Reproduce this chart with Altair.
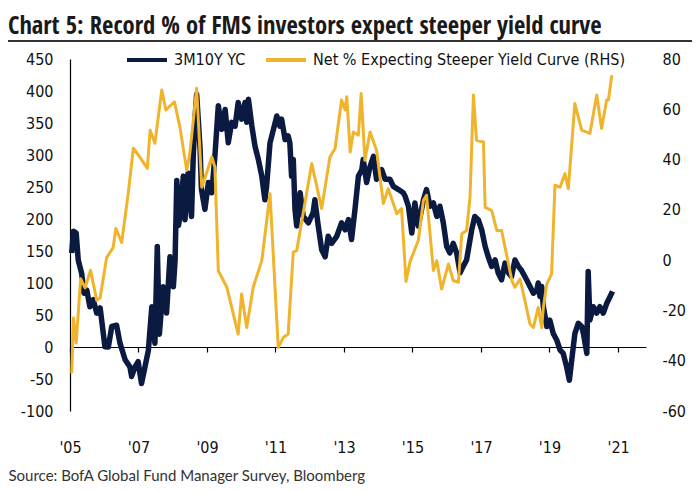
import altair as alt
import pandas as pd
import numpy as np

# ---- data ----
yc_years = [2005.05, 2005.10, 2005.18, 2005.24, 2005.34, 2005.41, 2005.49, 2005.58, 2005.68, 2005.78,
            2005.88, 2006.02, 2006.12, 2006.22, 2006.36, 2006.46, 2006.61, 2006.75, 2006.80, 2006.90,
            2006.99, 2007.09, 2007.19, 2007.29, 2007.39, 2007.48, 2007.55, 2007.61, 2007.72, 2007.82,
            2007.92, 2008.02, 2008.07, 2008.12, 2008.17, 2008.21, 2008.31, 2008.36, 2008.45, 2008.55,
            2008.60, 2008.65, 2008.70, 2008.80, 2008.84, 2008.94, 2009.04, 2009.14, 2009.23, 2009.33,
            2009.43, 2009.53, 2009.62, 2009.72, 2009.82, 2009.91, 2010.01, 2010.11, 2010.16, 2010.21,
            2010.31, 2010.40, 2010.50, 2010.60, 2010.69, 2010.74, 2010.84, 2010.94, 2011.04, 2011.13,
            2011.18, 2011.28, 2011.37, 2011.42, 2011.47, 2011.52, 2011.57, 2011.62, 2011.72, 2011.81,
            2011.96, 2012.10, 2012.15, 2012.25, 2012.35, 2012.45, 2012.54, 2012.64, 2012.79, 2012.93,
            2013.03, 2013.13, 2013.22, 2013.32, 2013.42, 2013.52, 2013.56, 2013.66, 2013.76, 2013.86,
            2013.95, 2014.10, 2014.20, 2014.34, 2014.44, 2014.59, 2014.73, 2014.78, 2014.88, 2014.98,
            2015.07, 2015.17, 2015.32, 2015.41, 2015.51, 2015.61, 2015.71, 2015.80, 2015.90, 2016.00,
            2016.09, 2016.19, 2016.29, 2016.39, 2016.48, 2016.58, 2016.73, 2016.82, 2016.92, 2017.02,
            2017.12, 2017.21, 2017.31, 2017.41, 2017.50, 2017.60, 2017.70, 2017.80, 2017.89, 2017.99,
            2018.09, 2018.18, 2018.33, 2018.43, 2018.53, 2018.63, 2018.67, 2018.72, 2018.77, 2018.82,
            2018.92, 2019.01, 2019.11, 2019.21, 2019.31, 2019.40, 2019.50, 2019.58, 2019.65, 2019.74,
            2019.84, 2019.94, 2019.99, 2020.09, 2020.13, 2020.18, 2020.28, 2020.38, 2020.47, 2020.57,
            2020.67, 2020.77, 2020.84]
yc_bp = [147, 181, 178, 136, 115, 84, 89, 63, 74, 53,
         61, 0.5, 0, 32, 34, 6, -20, -31, -46, -31,
         -23, -57, -31, -5, 63, 6, 157, 20, 94, 53,
         141, 94, 136, 260, 190, 204, 267, 199, 272, 204,
         298, 356, 395, 309, 246, 215, 257, 241, 298, 377,
         340, 371, 319, 351, 345, 382, 356, 382, 351, 387,
         345, 314, 293, 267, 230, 251, 319, 340, 361, 345,
         356, 324, 330, 319, 267, 293, 215, 189, 241, 204,
         194, 210, 230, 189, 152, 141, 173, 162, 173, 194,
         183, 199, 168, 215, 267, 277, 293, 257, 282, 298,
         262, 277, 262, 262, 251, 246, 241, 236, 220, 178,
         225, 189, 230, 246, 220, 225, 204, 220, 194, 157,
         147, 162, 147, 116, 126, 136, 183, 204, 199, 183,
         157, 141, 126, 136, 116, 105, 131, 116, 110, 136,
         126, 120, 105, 94.5, 84, 89, 100, 79, 94.5, 63,
         32, 42, 21, 11, -5, -10, -31, -52, -20, 21,
         37, 32, 21, -10, 118, 42, 63, 53, 63, 53,
         68, 79, 87]

fms_years = [2005.05, 2005.10, 2005.18, 2005.31, 2005.44, 2005.60, 2005.78, 2005.88, 2006.07, 2006.26,
             2006.34, 2006.51, 2006.70, 2006.85, 2007.04, 2007.26, 2007.34, 2007.48, 2007.68, 2007.80,
             2008.05, 2008.21, 2008.41, 2008.50, 2008.70, 2008.85, 2009.14, 2009.23, 2009.33, 2009.58,
             2009.72, 2009.91, 2010.01, 2010.16, 2010.35, 2010.60, 2010.84, 2011.08, 2011.23, 2011.37,
             2011.52, 2011.62, 2012.06, 2012.35, 2012.59, 2012.74, 2012.93, 2013.03, 2013.08, 2013.18,
             2013.27, 2013.42, 2013.50, 2013.61, 2013.76, 2013.95, 2014.15, 2014.29, 2014.54, 2014.68,
             2014.81, 2014.93, 2015.17, 2015.32, 2015.41, 2015.61, 2015.71, 2015.85, 2016.05, 2016.19,
             2016.34, 2016.44, 2016.58, 2016.68, 2016.78, 2016.87, 2017.07, 2017.12, 2017.31, 2017.46,
             2017.60, 2017.90, 2017.99, 2018.14, 2018.28, 2018.43, 2018.53, 2018.67, 2018.77, 2018.82,
             2018.92, 2019.06, 2019.16, 2019.31, 2019.45, 2019.55, 2019.74, 2019.94, 2020.18, 2020.38,
             2020.52, 2020.67, 2020.72, 2020.82]
fms_pct = [-45, -23, -33, -7.4, -11, -4, -16, -15, 1, 5,
           12.6, 7, 26.5, 44.5, 41, 36.5, 51.7, 46.5, 67.7, 59.7,
           63, 53, 35.7, 42.5, 68.4, 29, 41, 37, -4.2, -10.8,
           -18.8, -29.4, -13.5, -26.8, -10.8, -0.2, 26.4, -34.7, -30.8, -29.4,
           3.2, 3.8, 38.4, 20.5, 41, 44.4, 63.7, 59.7, 65, 43,
           51, 49.7, 66.3, 39.7, 51, 43.7, 22.5, 28.4, 18.5, 20.5,
           -8.5, -0.5, 7.8, 23.8, 25.8, -4.1, -0.2, -11.5, -1.5, -8.1,
           -8.8, 10.5, 11.8, 25, 65.7, 47.7, 47, 21, 19.8, 11.8,
           11.8, -8.1, -10.8, -7.5, -16, -25.4, -26.8, -18.8, -26.8, -18.8,
           -9.5, -5.5, 29.8, 29, 34.4, 28.4, 62.3, 51.7, 50.4, 65.7,
           52.4, 63.7, 63.7, 73.6]

series_names = ["3M10Y YC", "Net % Expecting Steeper Yield Curve (RHS)"]
left_ticks = list(range(-100, 451, 50))
right_ticks = list(range(-60, 81, 20))
x_tick_years = list(range(2005, 2022, 2))

NAVY = "#0b1a40"
GOLD = "#efb42c"


def to_date(y):
    yr = int(np.floor(y))
    frac = y - yr
    start = pd.Timestamp(year=yr, month=1, day=1)
    return start + pd.Timedelta(days=frac * 365.25)


yc_df = pd.DataFrame({"date": [to_date(v) for v in yc_years], "value": yc_bp, "series": series_names[0]})
fms_df = pd.DataFrame({"date": [to_date(v) for v in fms_years], "value": fms_pct, "series": series_names[1]})

W, H = 576, 352
LMIN, LMAX = -100, 450
zero_offset = -H * (0 - LMIN) / (LMAX - LMIN)

NARROW = "Liberation Sans Narrow, DejaVu Sans Condensed, sans-serif"
TITLE_FONT = "Open Sans Condensed, Roboto Condensed, DejaVu Sans Condensed, sans-serif"
SRC_FONT = "Lato, Open Sans, sans-serif"
LBL = 16

x_enc = alt.X(
    "date:T",
    scale=alt.Scale(domain=[alt.DateTime(year=2005, month=1, date=1), alt.DateTime(year=2021, month=10, date=26)]),
    axis=alt.Axis(
        values=[alt.DateTime(year=y, month=1, date=1) for y in x_tick_years],
        format="'%y", labelFlush=False, labelOverlap=False,
        domain=True, domainColor="#000000", domainWidth=1.2,
        ticks=True, tickSize=5, tickColor="#000000", tickWidth=1.2,
        offset=zero_offset, labelPadding=87, grid=False,
        labelFont=NARROW, labelFontSize=LBL, labelColor="#111111",
        title="Source: BofA Global Fund Manager Survey, Bloomberg",
        titleX=-62, titleY=128, titleAlign="left", titleBaseline="middle",
        titleFont=SRC_FONT, titleFontSize=15, titleFontWeight="normal", titleColor="#333333",
    ),
)

color_scale = alt.Scale(domain=series_names, range=[NAVY, GOLD])

yc_layer = alt.Chart(yc_df).mark_line(strokeWidth=5.5, strokeJoin="round", clip=False).encode(
    x=x_enc,
    y=alt.Y("value:Q", scale=alt.Scale(domain=[LMIN, LMAX], nice=False, zero=False),
            axis=alt.Axis(values=left_ticks, domain=True, domainColor="#000000", domainWidth=1.2,
                          ticks=False, labelPadding=17, grid=False, title=None,
                          labelExpr="toString(datum.value)",
                          labelFont=NARROW, labelFontSize=LBL, labelColor="#111111")),
    color=alt.Color("series:N", scale=color_scale,
                    legend=alt.Legend(title=None, orient="none", direction="horizontal",
                                      legendX=55, legendY=-21, symbolType="stroke",
                                      symbolSize=1600, symbolStrokeWidth=4,
                                      labelFont=NARROW, labelFontSize=LBL, labelColor="#111111",
                                      labelLimit=500, labelOffset=5, columnPadding=12, padding=0)),
)

fms_layer = alt.Chart(fms_df).mark_line(strokeWidth=3, strokeJoin="round", clip=False).encode(
    x=x_enc,
    y=alt.Y("value:Q", scale=alt.Scale(domain=[-60, 80], nice=False, zero=False),
            axis=alt.Axis(orient="right", values=right_ticks, domain=False, ticks=False,
                          labelPadding=16, grid=False, title=None,
                          labelExpr="toString(datum.value)",
                          labelFont=NARROW, labelFontSize=LBL, labelColor="#111111")),
    color=alt.Color("series:N", scale=color_scale),
)

underline = alt.Chart(yc_df).mark_rule(color="#333333", strokeWidth=1.5, clip=False).encode(
    x=alt.value(-70), x2=alt.value(630), y=alt.value(-18)
)

chart = alt.layer(yc_layer, fms_layer, underline).resolve_scale(y="independent").properties(
    width=W, height=H,
    autosize=alt.AutoSizeParams(type="none"),
    padding={"left": 62, "top": 51, "right": 46, "bottom": 73},
    title=alt.TitleParams(
        "Chart 5: Record % of FMS investors expect steeper yield curve",
        anchor="start", frame="group", dx=-62, dy=22, font=TITLE_FONT, fontSize=24.6,
        fontWeight="bold", color="#1a1a1a", offset=20,
    ),
).configure_view(stroke=None)

chart.save("out.html", embed_options={"renderer": "svg", "actions": False})
